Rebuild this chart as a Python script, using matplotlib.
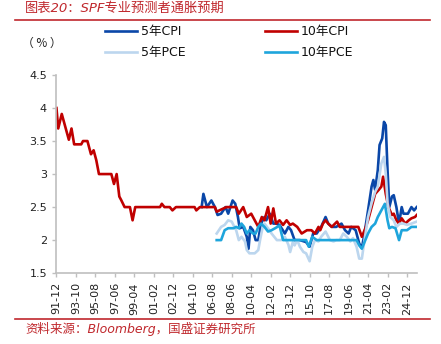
import matplotlib
matplotlib.use("Agg")
import matplotlib.pyplot as plt

plt.rcParams['font.family'] = ['DejaVu Sans', 'Noto Sans CJK SC']

# SPF inflation expectations (%)
cpi10_dates = ['1991-12', '1992-02', '1992-06', '1993-02', '1993-05', '1993-08', '1994-04', '1994-06',
               '1994-11', '1995-03', '1995-06', '1995-09', '1995-12', '1997-02', '1997-05', '1997-08',
               '1997-11', '1998-01', '1998-05', '1998-11', '1999-02', '1999-05', '2001-09', '2001-11',
               '2002-02', '2002-08', '2002-11', '2003-03', '2004-12', '2005-02', '2005-06', '2006-11',
               '2007-01', '2007-04', '2007-12', '2008-11', '2009-02', '2009-07', '2009-11', '2010-04',
               '2010-08', '2010-12', '2011-04', '2011-07', '2011-11', '2012-02', '2012-05', '2012-08',
               '2012-12', '2013-04', '2013-08', '2013-12', '2014-03', '2014-08', '2015-01', '2015-07',
               '2015-12', '2016-04', '2016-08', '2016-10', '2017-01', '2017-04', '2017-07', '2017-11',
               '2018-05', '2018-08', '2020-05', '2020-09', '2021-01', '2021-04', '2021-08', '2021-12',
               '2022-04', '2022-07', '2022-09', '2022-12', '2023-03', '2023-07', '2023-09', '2023-12',
               '2024-03', '2024-06', '2024-10', '2025-02', '2025-05', '2025-09', '2025-11']
cpi10_vals = [4.0, 3.69, 3.91, 3.52, 3.69, 3.45, 3.45, 3.5,
              3.5, 3.3, 3.36, 3.21, 3.0, 3.0, 2.85, 3.0,
              2.66, 2.61, 2.5, 2.5, 2.3, 2.5, 2.5, 2.55,
              2.5, 2.5, 2.45, 2.5, 2.5, 2.45, 2.5, 2.5,
              2.43, 2.45, 2.5, 2.5, 2.4, 2.5, 2.35, 2.4,
              2.3, 2.2, 2.35, 2.3, 2.5, 2.25, 2.48, 2.25,
              2.3, 2.23, 2.3, 2.23, 2.25, 2.2, 2.1, 2.15,
              2.15, 2.1, 2.2, 2.15, 2.25, 2.3, 2.25, 2.2,
              2.28, 2.2, 2.2, 2.05, 2.18, 2.3, 2.5, 2.7,
              2.76, 2.81, 2.96, 2.7, 2.5, 2.38, 2.4, 2.3,
              2.25, 2.33, 2.25, 2.3, 2.33, 2.35, 2.38]

cpi5_dates = ['2005-08', '2005-10', '2006-02', '2006-07', '2006-11', '2007-02', '2007-06', '2007-11',
              '2008-02', '2008-07', '2008-10', '2009-01', '2009-03', '2009-07', '2009-11', '2010-01',
              '2010-03', '2010-06', '2010-09', '2010-12', '2011-03', '2011-07', '2011-09', '2012-01',
              '2012-05', '2012-08', '2012-12', '2013-06', '2013-10', '2014-01', '2014-05', '2014-11',
              '2015-06', '2015-10', '2016-02', '2016-06', '2016-11', '2017-04', '2017-07', '2017-11',
              '2018-04', '2018-10', '2019-02', '2019-06', '2019-09', '2020-02', '2020-06', '2020-09',
              '2020-12', '2021-04', '2021-08', '2021-10', '2021-12', '2022-03', '2022-05', '2022-08',
              '2022-10', '2022-12', '2023-02', '2023-04', '2023-07', '2023-09', '2023-12', '2024-03',
              '2024-06', '2024-08', '2025-01', '2025-05', '2025-08', '2025-11']
cpi5_vals = [2.5, 2.7, 2.5, 2.6, 2.5, 2.38, 2.4, 2.5,
             2.4, 2.6, 2.55, 2.35, 2.18, 2.2, 2.05, 1.87,
             2.2, 2.15, 2.0, 2.0, 2.25, 2.35, 2.3, 2.4,
             2.25, 2.25, 2.23, 2.1, 2.2, 2.15, 2.0, 2.0,
             1.97, 1.9, 2.1, 2.1, 2.2, 2.35, 2.25, 2.2,
             2.2, 2.25, 2.15, 2.1, 2.2, 2.15, 1.95, 1.88,
             2.1, 2.45, 2.81, 2.91, 2.76, 3.06, 3.44, 3.54,
             3.79, 3.74, 3.06, 2.5, 2.66, 2.68, 2.5, 2.25,
             2.5, 2.4, 2.4, 2.5, 2.45, 2.5]

pce5_dates = ['2007-01', '2007-06', '2007-10', '2008-02', '2008-06', '2008-09', '2008-11', '2009-02',
              '2009-05', '2009-09', '2009-11', '2010-02', '2010-08', '2010-12', '2011-02', '2011-05',
              '2011-07', '2011-11', '2012-03', '2012-09', '2013-02', '2013-06', '2013-10', '2013-12',
              '2014-03', '2014-05', '2014-08', '2014-11', '2015-03', '2015-06', '2015-10', '2016-01',
              '2016-04', '2016-08', '2016-11', '2017-04', '2017-09', '2018-01', '2018-04', '2018-08',
              '2018-12', '2019-04', '2019-08', '2019-11', '2020-03', '2020-06', '2020-09', '2020-12',
              '2021-04', '2021-08', '2021-12', '2022-03', '2022-07', '2022-10', '2022-12', '2023-02',
              '2023-05', '2023-09', '2023-12', '2024-04', '2024-08', '2024-12', '2025-05', '2025-11']
pce5_vals = [2.1, 2.2, 2.23, 2.3, 2.28, 2.2, 2.15, 2.0,
             2.05, 1.98, 1.85, 1.8, 1.8, 1.85, 2.0, 2.2,
             2.25, 2.18, 2.1, 2.0, 2.0, 2.05, 1.93, 1.82,
             1.97, 1.92, 2.0, 1.9, 1.82, 1.8, 1.68, 1.9,
             2.0, 1.98, 2.05, 2.13, 2.0, 1.98, 2.0, 2.0,
             2.1, 2.05, 1.98, 2.03, 1.9, 1.72, 1.72, 2.0,
             2.35, 2.56, 2.73, 2.81, 3.16, 3.26, 3.01, 2.56,
             2.35, 2.3, 2.2, 2.25, 2.25, 2.23, 2.25, 2.28]

pce10_dates = ['2007-01', '2007-06', '2007-10', '2008-02', '2008-08', '2008-11', '2009-02', '2009-05',
               '2009-08', '2009-11', '2010-02', '2010-06', '2010-09', '2010-12', '2011-03', '2011-07',
               '2011-11', '2012-03', '2012-07', '2012-12', '2013-04', '2015-06', '2015-09', '2016-01',
               '2016-06', '2020-03', '2020-06', '2020-09', '2020-12', '2021-04', '2021-08', '2021-12',
               '2022-03', '2022-07', '2022-11', '2023-02', '2023-04', '2023-07', '2023-11', '2024-03',
               '2024-06', '2024-12', '2025-05', '2025-11']
pce10_vals = [2.0, 2.0, 2.15, 2.18, 2.18, 2.2, 2.18, 2.25,
              2.2, 2.1, 2.15, 2.1, 2.1, 2.2, 2.25, 2.2,
              2.13, 2.15, 2.18, 2.22, 2.0, 2.0, 1.9, 2.05,
              2.0, 2.0, 1.92, 1.87, 1.97, 2.1, 2.2, 2.25,
              2.35, 2.45, 2.55, 2.3, 2.18, 2.2, 2.18, 2.0,
              2.15, 2.15, 2.2, 2.2]

start = '1991-12'
n_months = 408


def month_idx(s):
    y, m = map(int, s.split('-'))
    y0, m0 = map(int, start.split('-'))
    return (y - y0) * 12 + (m - m0)


def label_of(i):
    y0, m0 = map(int, start.split('-'))
    t = y0 * 12 + m0 - 1 + i
    return f"{(t // 12) % 100:02d}-{t % 12 + 1:02d}"


fig = plt.figure(figsize=(4.41, 3.44), dpi=100)
ax = fig.add_axes([0.127, 0.206, 0.819, 0.576])

c_cpi5, c_cpi10, c_pce5, c_pce10 = '#0a47a8', '#c00000', '#bcd6ee', '#1ea5dc'
lw = 1.9
l1, = ax.plot([month_idx(d) for d in cpi5_dates], cpi5_vals, color=c_cpi5, lw=lw, label='5年CPI')
l2, = ax.plot([month_idx(d) for d in cpi10_dates], cpi10_vals, color=c_cpi10, lw=lw, label='10年CPI')
l3, = ax.plot([month_idx(d) for d in pce5_dates], pce5_vals, color=c_pce5, lw=lw, label='5年PCE')
l4, = ax.plot([month_idx(d) for d in pce10_dates], pce10_vals, color=c_pce10, lw=lw, label='10年PCE')

ax.set_xlim(-0.5, n_months - 0.5)
ax.set_ylim(1.5, 4.5)
ax.set_yticks([1.5, 2, 2.5, 3, 3.5, 4, 4.5])
ax.set_yticklabels(['1.5', '2', '2.5', '3', '3.5', '4', '4.5'])
xt = list(range(0, n_months, 22))
ax.set_xticks(xt)
ax.set_xticklabels([label_of(i) for i in xt], rotation=90)

for s in ['top', 'right']:
    ax.spines[s].set_visible(False)
for s in ['left', 'bottom']:
    ax.spines[s].set_color('#bfbfbf')
    ax.spines[s].set_linewidth(1.2)
ax.tick_params(axis='both', colors='#bfbfbf', labelcolor='#222222', labelsize=8, length=3, width=1)

# legend and header
fig.legend([l1, l3, l2, l4], ['5年CPI', '5年PCE', '10年CPI', '10年PCE'], ncol=2, frameon=False,
           loc='upper left', bbox_to_anchor=(0.238, 0.926), borderaxespad=0, borderpad=0,
           fontsize=9, handlelength=2.55, columnspacing=6.4, handletextpad=0.3, labelspacing=0.6,
           labelcolor='#111111')
fig.text(0.05, 0.875, '（ % ）', fontsize=8.5, va='center', color='#222222',
         family=['Noto Sans CJK SC', 'DejaVu Sans'])

fig.text(0.057, 0.977, '图表20：SPF专业预测者通胀预期', fontsize=9.5, color='#c0282d',
         style='italic', va='center')
fig.add_artist(plt.Line2D([0.034, 0.976], [0.942, 0.942], color='#c0282d', lw=1.2))
fig.add_artist(plt.Line2D([0.034, 0.976], [0.072, 0.072], color='#c0282d', lw=1.2))
fig.text(0.057, 0.044, '资料来源：Bloomberg，国盛证券研究所', fontsize=9, color='#c0282d',
         style='italic', va='center')

fig.savefig('out.png', dpi=100)
